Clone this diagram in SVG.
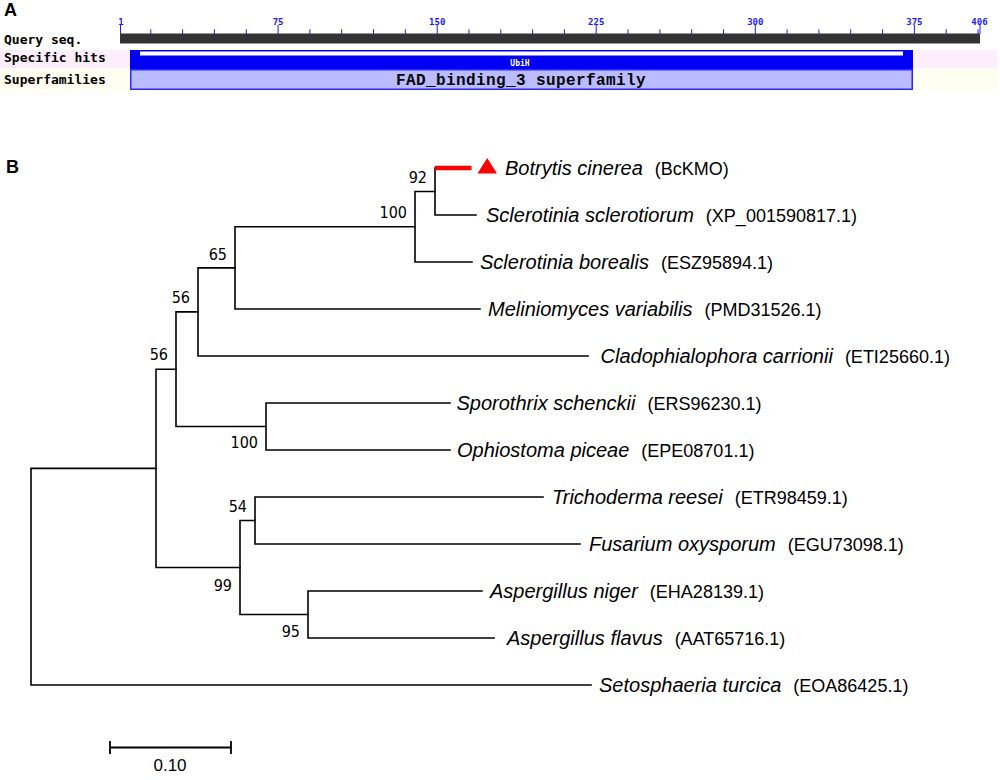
<svg xmlns="http://www.w3.org/2000/svg" width="1000" height="780" viewBox="0 0 1000 780">
<style>
.panel{font-family:"Liberation Sans",Arial,sans-serif;font-weight:bold;font-size:18px;fill:#000}
.mono{font-family:"DejaVu Sans Mono","Liberation Mono",monospace;font-weight:bold}
.rl{font-size:9px;fill:#1a1aff;text-anchor:middle}
.rowlab{font-size:13px;fill:#000}
.sfam{font-family:"Liberation Mono","DejaVu Sans Mono",monospace;font-weight:bold;font-size:16px;letter-spacing:0.4px;fill:#000;text-anchor:middle}
.tick{stroke:#1a1aff;stroke-width:1}
.br{fill:none;stroke:#000;stroke-width:1.6;stroke-linejoin:miter;stroke-linecap:square}
.bs{font-family:"DejaVu Sans Condensed","DejaVu Sans",sans-serif;font-size:16px;fill:#000;text-anchor:end}
.tx{font-family:"Liberation Sans",Arial,sans-serif;fill:#000}
.sp{font-style:italic;font-size:20px}
.acc{font-size:18px}
</style>

<!-- Panel A -->
<g id="panelA">
  <text class="panel" x="4" y="15.5">A</text>
  <rect x="0" y="50" width="997" height="18.5" fill="#fdeefd"/>
  <rect x="0" y="68.5" width="997" height="21.5" fill="#fefef0"/>
  <g id="ruler">
    <g class="tick">
      <path d="M120.5,25V34M278.1,25V34M437.2,25V34M596.2,25V34M755.3,25V34M914.4,25V34M980,25V34"/>
      <path d="M150.8,29.3V34M182.6,29.3V34M214.4,29.3V34M246.3,29.3V34M309.9,29.3V34M341.7,29.3V34M373.5,29.3V34M405.3,29.3V34M469,29.3V34M500.8,29.3V34M532.6,29.3V34M564.4,29.3V34M628,29.3V34M659.9,29.3V34M691.7,29.3V34M723.5,29.3V34M787.1,29.3V34M818.9,29.3V34M850.7,29.3V34M882.6,29.3V34M946.2,29.3V34M978,29.3V34"/>
    </g>
    <g class="mono rl">
      <text x="121" y="24.5">1</text>
      <text x="278.1" y="24.5">75</text>
      <text x="437.2" y="24.5">150</text>
      <text x="596.2" y="24.5">225</text>
      <text x="755.3" y="24.5">300</text>
      <text x="914.4" y="24.5">375</text>
      <text x="979.5" y="24.5">406</text>
    </g>
  </g>
  <g id="query">
    <text class="mono rowlab" x="4" y="44">Query seq.</text>
    <rect x="120" y="33.5" width="860" height="10" fill="#333333"/>
  </g>
  <g id="specific-hits">
    <text class="mono rowlab" x="4" y="61.5">Specific hits</text>
    <rect x="130" y="50" width="783" height="19" fill="#0000f5"/>
    <rect x="140" y="51.5" width="763" height="4" fill="#ffffff"/>
    <text class="mono" x="520" y="65.5" font-size="8" fill="#ffffff" text-anchor="middle">UbiH</text>
  </g>
  <g id="superfamilies">
    <text class="mono rowlab" x="4" y="83.5">Superfamilies</text>
    <rect x="130.75" y="69.75" width="781.5" height="19.5" fill="#bbbbff" stroke="#2a2aff" stroke-width="1.5"/>
    <text class="sfam" x="521" y="85">FAD_binding_3 superfamily</text>
  </g>
</g>

<!-- Panel B -->
<text class="panel" x="6" y="173.3" font-size="17">B</text>

<g id="connectors">
  <path class="br" d="M156,468.4H31V685H591"/>
  <path class="br" d="M176,369.2H156V567.5H240"/>
  <path class="br" d="M198,311.9H176V426.5H266"/>
  <path class="br" d="M235,267.9H198V356H588"/>
  <path class="br" d="M415,226.75H235V309H480"/>
  <path class="br" d="M435,191.5H415V262H472"/>
  <path class="br" d="M435,168V215H476"/>
  <path class="br" d="M450,403H266V450H450"/>
  <path class="br" d="M255,520.5H240V614.5H308"/>
  <path class="br" d="M543,497H255V544H580"/>
  <path class="br" d="M482,591H308V638H494"/>
  <path d="M435,168H471.5" stroke="#ff0000" stroke-width="4.5" fill="none"/>
  <path d="M110,741V754M110,747.5H231M231,741V754" stroke="#000" stroke-width="1.8" fill="none"/>
</g>

<g id="bootstrap">
  <g id="n92"><text class="bs" x="427" y="183">92</text></g>
  <g id="n100a"><text class="bs" x="407" y="218">100</text></g>
  <g id="n65"><text class="bs" x="227" y="259.5">65</text></g>
  <g id="n56a"><text class="bs" x="190" y="303">56</text></g>
  <g id="n56b"><text class="bs" x="168" y="360">56</text></g>
  <g id="n100b"><text class="bs" x="258" y="448">100</text></g>
  <g id="n54"><text class="bs" x="247" y="511.5">54</text></g>
  <g id="n99"><text class="bs" x="232" y="591">99</text></g>
  <g id="n95"><text class="bs" x="300" y="637">95</text></g>
</g>

<g id="taxa">
  <g id="botrytis">
    <polygon points="477.5,173.5 497,173.5 487.2,158" fill="#ff0000"/>
    <text class="tx" x="505" y="174.5"><tspan class="sp">Botrytis cinerea</tspan><tspan class="acc" dx="12">(BcKMO)</tspan></text>
  </g>
  <g id="scl-sclerotiorum"><text class="tx" x="486" y="221.5"><tspan class="sp">Sclerotinia sclerotiorum</tspan><tspan class="acc" dx="12">(XP_001590817.1)</tspan></text></g>
  <g id="scl-borealis"><text class="tx" x="480" y="268.5"><tspan class="sp">Sclerotinia borealis</tspan><tspan class="acc" dx="12">(ESZ95894.1)</tspan></text></g>
  <g id="meliniomyces"><text class="tx" x="488" y="315.5"><tspan class="sp">Meliniomyces variabilis</tspan><tspan class="acc" dx="12">(PMD31526.1)</tspan></text></g>
  <g id="cladophialophora"><text class="tx" x="600.5" y="362.5"><tspan class="sp">Cladophialophora carrionii</tspan><tspan class="acc" dx="12">(ETI25660.1)</tspan></text></g>
  <g id="sporothrix"><text class="tx" x="456.5" y="409.5"><tspan class="sp">Sporothrix schenckii</tspan><tspan class="acc" dx="12">(ERS96230.1)</tspan></text></g>
  <g id="ophiostoma"><text class="tx" x="457" y="456.5"><tspan class="sp">Ophiostoma piceae</tspan><tspan class="acc" dx="12">(EPE08701.1)</tspan></text></g>
  <g id="trichoderma"><text class="tx" x="552" y="503.5"><tspan class="sp">Trichoderma reesei</tspan><tspan class="acc" dx="12">(ETR98459.1)</tspan></text></g>
  <g id="fusarium"><text class="tx" x="589" y="550.5"><tspan class="sp">Fusarium oxysporum</tspan><tspan class="acc" dx="12">(EGU73098.1)</tspan></text></g>
  <g id="a-niger"><text class="tx" x="490" y="597.5"><tspan class="sp">Aspergillus niger</tspan><tspan class="acc" dx="12">(EHA28139.1)</tspan></text></g>
  <g id="a-flavus"><text class="tx" x="507" y="644.5"><tspan class="sp">Aspergillus flavus</tspan><tspan class="acc" dx="12">(AAT65716.1)</tspan></text></g>
  <g id="setosphaeria"><text class="tx" x="599" y="691.5"><tspan class="sp">Setosphaeria turcica</tspan><tspan class="acc" dx="12">(EOA86425.1)</tspan></text></g>
</g>

<g id="scalebar-label"><text class="tx" x="170" y="771" font-size="17" text-anchor="middle">0.10</text></g>
</svg>
